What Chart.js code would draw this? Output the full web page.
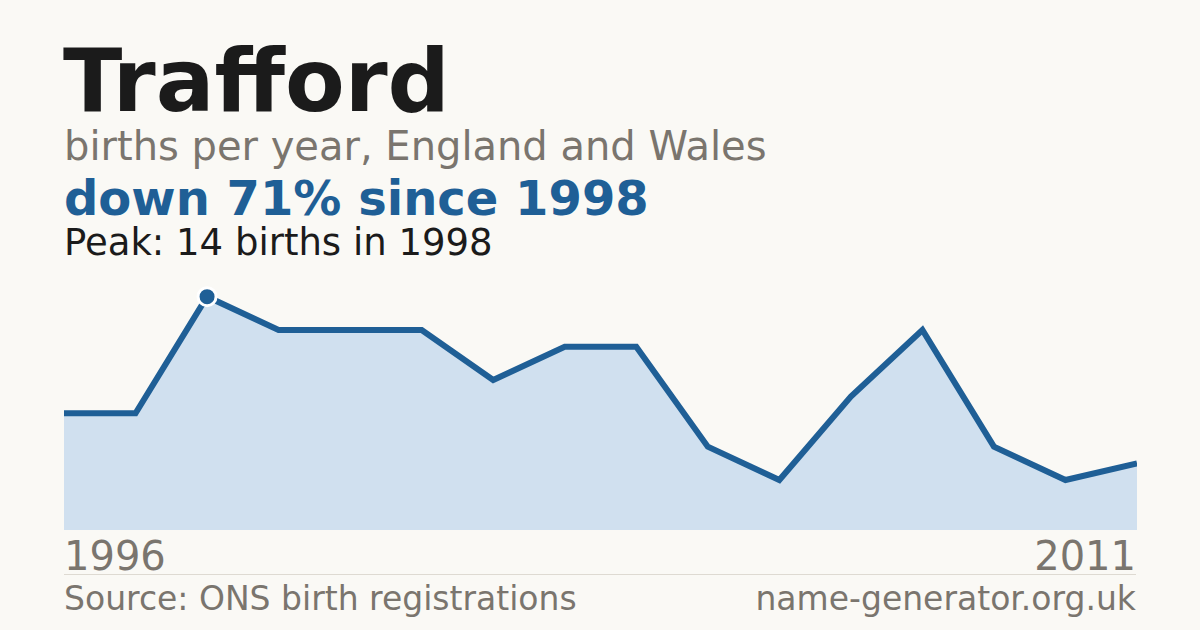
<!DOCTYPE html>
<html>
<head>
<meta charset="utf-8">
<script src="https://cdn.jsdelivr.net/npm/chart.js@4/dist/chart.umd.min.js"></script>
<style>
  html, body { margin: 0; padding: 0; }
  body { width: 1200px; height: 630px; background: #faf9f5; position: relative; overflow: hidden; font-family: "DejaVu Sans", sans-serif; }
  .t { position: absolute; line-height: 1; white-space: nowrap; }
  #title { left: 63px; top: 38px; font-size: 87px; font-weight: bold; color: #1b1b1b; }
  #sub { left: 64px; top: 126px; font-size: 40px; color: #7a756e; }
  #headline { left: 64px; top: 174px; font-size: 48px; font-weight: bold; color: #1f5f96; }
  #peak { left: 64px; top: 224px; font-size: 37px; color: #1b1b1b; }
  #yStart { left: 64px; top: 536px; font-size: 40px; color: #7a756e; }
  #yEnd { right: 64px; top: 536px; font-size: 40px; color: #7a756e; }
  #src { left: 64px; top: 582px; font-size: 33px; color: #7a756e; }
  #site { right: 64px; top: 582px; font-size: 33px; color: #7a756e; }
  #rule { position: absolute; left: 64px; width: 1072px; top: 574px; height: 1px; background: #dedad2; }
  #wrap { position: absolute; left: 64px; top: 280px; width: 1073px; height: 250px; }
</style>
</head>
<body>
<div class="t" id="title">Trafford</div>
<div class="t" id="sub">births per year, England and Wales</div>
<div class="t" id="headline">down 71% since 1998</div>
<div class="t" id="peak">Peak: 14 births in 1998</div>
<div id="wrap"><canvas id="c"></canvas></div>
<div class="t" id="yStart"></div>
<div class="t" id="yEnd"></div>
<div id="rule"></div>
<div class="t" id="src">Source: ONS birth registrations</div>
<div class="t" id="site">name-generator.org.uk</div>
<script>
const years = ["1996","1997","1998","1999","2000","2001","2002","2003","2004","2005","2006","2007","2008","2009","2010","2011"];
const births = [7, 7, 14, 12, 12, 12, 9, 11, 11, 5, 3, 8, 12, 5, 3, 4];
const yMax = 15;

const peakIdx = births.indexOf(Math.max(...births));
document.getElementById('yStart').textContent = years[0];
document.getElementById('yEnd').textContent = years[years.length - 1];

new Chart(document.getElementById('c'), {
  type: 'line',
  data: {
    labels: years,
    datasets: [{
      data: births,
      borderColor: '#1f5f96',
      borderWidth: 6,
      backgroundColor: '#d0e0ef',
      fill: 'origin',
      tension: 0,
      clip: false,
      pointRadius: ctx => ctx.dataIndex === peakIdx ? 9 : 0,
      pointHoverRadius: 0,
      pointBackgroundColor: '#1f5f96',
      pointBorderColor: '#ffffff',
      pointBorderWidth: 3
    }]
  },
  options: {
    responsive: true,
    maintainAspectRatio: false,
    animation: false,
    devicePixelRatio: 1,
    layout: { padding: 0 },
    plugins: { legend: { display: false }, tooltip: { enabled: false } },
    scales: {
      x: { display: false, offset: false },
      y: { display: false, min: 0, max: yMax }
    }
  }
});
</script>
</body>
</html>
